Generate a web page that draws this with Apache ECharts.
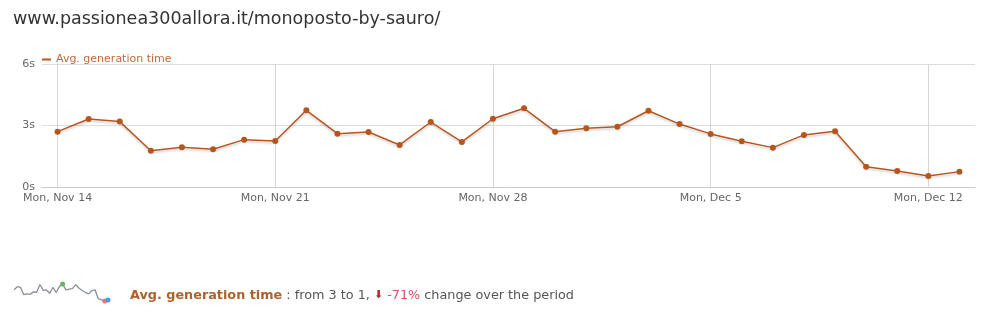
<!DOCTYPE html>
<html><head><meta charset="utf-8">
<script src="https://cdn.jsdelivr.net/npm/echarts@6/dist/echarts.min.js"></script>
<style>html,body{margin:0;padding:0;background:#fff}#c{width:1000px;height:334px}</style>
</head><body><div id="c"></div>
<script>
const categories = ['Mon, Nov 14','Tue, Nov 15','Wed, Nov 16','Thu, Nov 17','Fri, Nov 18','Sat, Nov 19','Sun, Nov 20',
 'Mon, Nov 21','Tue, Nov 22','Wed, Nov 23','Thu, Nov 24','Fri, Nov 25','Sat, Nov 26','Sun, Nov 27',
 'Mon, Nov 28','Tue, Nov 29','Wed, Nov 30','Thu, Dec 1','Fri, Dec 2','Sat, Dec 3','Sun, Dec 4',
 'Mon, Dec 5','Tue, Dec 6','Wed, Dec 7','Thu, Dec 8','Fri, Dec 9','Sat, Dec 10','Sun, Dec 11',
 'Mon, Dec 12','Tue, Dec 13'];
const genTime = [2.70,3.32,3.19,1.77,1.94,1.84,2.31,2.24,3.74,2.60,2.68,2.05,3.17,2.20,3.33,3.84,2.70,2.86,2.94,3.72,3.07,2.59,2.23,1.92,2.54,2.72,0.99,0.78,0.54,0.75];
const yTicks = [0,3,6];
const seriesName = 'Avg. generation time';
const titleText = 'www.passionea300allora.it/monoposto-by-sauro/';
const summaryFrom = '3', summaryTo = '1', summaryChange = '-71%';

const FONT = 'DejaVu Sans';
const maxIdx = genTime.indexOf(Math.max(...genTime));
const minIdx = genTime.indexOf(Math.min(...genTime));
const lastIdx = genTime.length - 1;
const sparkData = genTime.map((v, i) => {
  let c = null;
  if (i === lastIdx) c = '#4a9af0';
  else if (i === minIdx) c = '#f07078';
  else if (i === maxIdx) c = '#62b862';
  return c ? {value: v, symbol: 'circle', symbolSize: 5, itemStyle: {color: c}} : {value: v, symbol: 'none'};
});
const isMonday = (i) => i % 7 === 0;

const chart = echarts.init(document.getElementById('c'), null, {renderer: 'canvas'});
chart.setOption({
  animation: false,
  textStyle: {fontFamily: FONT},
  title: [
    {text: titleText, left: 8, top: 5, textStyle: {fontFamily: FONT, fontSize: 17.5, fontWeight: 'normal', color: '#333'}},
    {left: 125, top: 284,
     text: '{b|' + seriesName + '}{g| : from ' + summaryFrom + ' to ' + summaryTo + ', }{a|⬇}{r| ' + summaryChange + '}{g| change over the period}',
     textStyle: {fontFamily: FONT, fontSize: 12.8, fontWeight: 'normal', rich: {
       b: {fontFamily: FONT, fontSize: 12.8, fontWeight: 'bold', color: '#b0602a'},
       g: {fontFamily: FONT, fontSize: 12.8, fontWeight: 'normal', color: '#555'},
       a: {fontFamily: FONT, fontSize: 11, fontWeight: 'normal', color: '#a83030'},
       r: {fontFamily: FONT, fontSize: 12.8, fontWeight: 'normal', color: '#f04a60'}
     }}}
  ],
  legend: {left: 37, top: 49, icon: 'rect', itemWidth: 9, itemHeight: 2, itemGap: 6,
    data: [seriesName], textStyle: {fontFamily: FONT, fontSize: 11, color: '#c0693b'}},
  grid: [
    {left: 42, right: 25, top: 64, bottom: 147},
    {left: 14, width: 94, top: 284, height: 17}
  ],
  xAxis: [
    {type: 'category', data: categories, boundaryGap: true,
     axisLine: {lineStyle: {color: '#cccccc'}},
     axisTick: {alignWithLabel: true, interval: 0, length: 4, lineStyle: {color: '#cccccc'}},
     axisLabel: {interval: (i) => isMonday(i), color: '#666', fontFamily: FONT, fontSize: 11, margin: 6},
     splitLine: {show: true, alignWithLabel: true, interval: (i) => isMonday(i), lineStyle: {color: '#d6d6d6'}}},
    {type: 'category', gridIndex: 1, data: categories, boundaryGap: false, show: false}
  ],
  yAxis: [
    {type: 'value', min: 0, max: 6, interval: 3,
     axisLine: {show: false}, axisTick: {show: false},
     axisLabel: {formatter: (v) => yTicks.includes(v) ? v + 's' : '', color: '#666', fontFamily: FONT, fontSize: 11, margin: 7},
     splitLine: {lineStyle: {color: '#dddddd'}}},
    {type: 'value', gridIndex: 1, show: false, min: 'dataMin', max: 'dataMax'}
  ],
  series: [
    {name: seriesName, type: 'line', data: genTime, symbol: 'circle', symbolSize: 6, showAllSymbol: true,
     itemStyle: {color: '#b5561f'},
     lineStyle: {color: '#b5561f', width: 1.5, shadowColor: 'rgba(0,0,0,0.18)', shadowBlur: 2, shadowOffsetY: 2}},
    {name: 'spark', type: 'line', xAxisIndex: 1, yAxisIndex: 1, data: sparkData,
     lineStyle: {color: '#8a8f99', width: 1.3}, itemStyle: {color: '#8a8f99'}, showSymbol: true, showAllSymbol: true, silent: true, z: 3}
  ]
});
</script></body></html>
